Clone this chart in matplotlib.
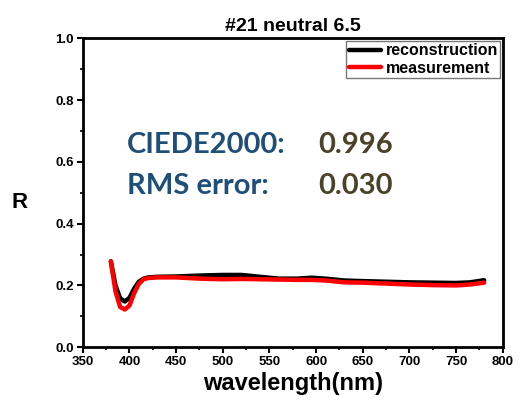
import matplotlib
matplotlib.use("Agg")
import matplotlib.pyplot as plt
import numpy as np

wavelength = [380, 385, 390, 395, 400, 405, 410, 415, 420, 430, 450, 475, 500, 520, 540, 560, 580, 595, 610, 630, 650, 675, 700, 725, 750, 765, 780]
reconstruction = [0.278, 0.200, 0.158, 0.148, 0.160, 0.190, 0.212, 0.222, 0.226, 0.228, 0.229, 0.232, 0.234, 0.234, 0.228, 0.222, 0.222, 0.225, 0.222, 0.216, 0.214, 0.212, 0.210, 0.209, 0.208, 0.210, 0.217]
measurement = [0.278, 0.180, 0.130, 0.122, 0.135, 0.175, 0.205, 0.220, 0.224, 0.226, 0.226, 0.222, 0.220, 0.221, 0.220, 0.219, 0.218, 0.218, 0.216, 0.210, 0.209, 0.206, 0.203, 0.201, 0.200, 0.203, 0.209]

title = "#21 neutral 6.5"
xlabel = "wavelength(nm)"
ylabel = "R"
metric_names = ["CIEDE2000:", "RMS error:"]
metric_values = ["0.996", "0.030"]

plt.rcParams['font.family'] = ['Liberation Sans', 'DejaVu Sans']
fig = plt.figure(figsize=(5.21, 4.08), dpi=100)
ax = fig.add_axes([0.159, 0.149, 0.806, 0.757])

ax.plot(wavelength, reconstruction, color='black', lw=3.2, label='reconstruction', solid_capstyle='round')
ax.plot(wavelength, measurement, color='#ff0000', lw=3.2, label='measurement', solid_capstyle='round')

ax.set_xlim(350, 800)
ax.set_ylim(0, 1.0)
ax.set_xticks(np.arange(350, 801, 50))
ax.set_xticks(np.arange(375, 800, 50), minor=True)
ax.set_yticks(np.arange(0, 1.01, 0.2))
ax.set_yticks(np.arange(0.1, 1.0, 0.2), minor=True)
ax.set_yticklabels([f"{v:.1f}" for v in np.arange(0, 1.01, 0.2)])
for lab in ax.get_xticklabels() + ax.get_yticklabels():
    lab.set_fontweight('bold')
ax.tick_params(axis='both', which='major', direction='out', length=4, width=1.5, labelsize=9.5, pad=2.5)
ax.tick_params(axis='both', which='minor', direction='out', length=2.5, width=1.2)
for s in ax.spines.values():
    s.set_linewidth(2.0)

ax.set_title(title, fontsize=14, fontweight='bold', pad=5)
ax.set_xlabel(xlabel, fontsize=17, fontweight='bold', labelpad=3)
ax.set_ylabel(ylabel, fontsize=16, fontweight='bold', rotation=0, va='center', ha='center')
ax.yaxis.set_label_coords(-0.15, 0.47)

leg = ax.legend(loc='upper right', frameon=True, fancybox=False,
                edgecolor='#555555', borderpad=0.15, handlelength=2.0, handletextpad=0.3,
                labelspacing=0.15, borderaxespad=0.15, prop={'weight': 'bold', 'size': 11.5})
leg.get_frame().set_linewidth(1.0)

for i, (n, v) in enumerate(zip(metric_names, metric_values)):
    y = 0.63 - i * 0.133
    ax.text(0.105, y, n, transform=ax.transAxes, fontsize=21, fontweight='bold',
            color='#1F4E79', family=['Lato', 'DejaVu Sans'], va='baseline')
    ax.text(0.56, y, v, transform=ax.transAxes, fontsize=21, fontweight='bold',
            color='#4A4329', family=['Lato', 'DejaVu Sans'], va='baseline')

fig.savefig('out.png', dpi=100)
